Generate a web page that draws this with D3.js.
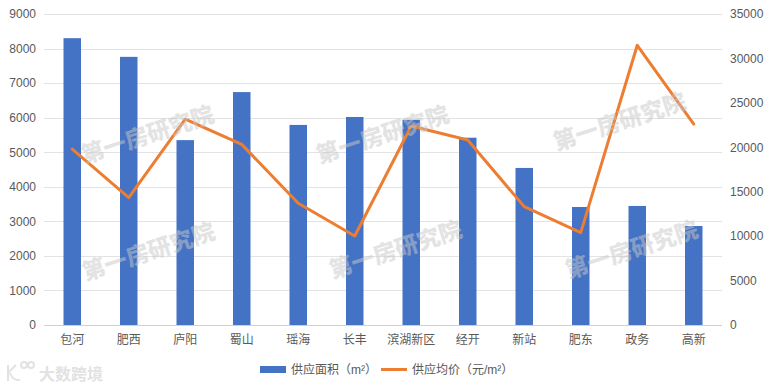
<!DOCTYPE html>
<html><head><meta charset="utf-8">
<script src="https://cdn.jsdelivr.net/npm/d3@7/dist/d3.min.js"></script>
<style>body{margin:0;background:#fff;}svg{display:block;}</style>
</head><body>
<svg id="c" width="774" height="390"></svg>
<script>
const categories = ["包河","肥西","庐阳","蜀山","瑶海","长丰","滨湖新区","经开","新站","肥东","政务","高新"];
const areaValues = [8300,7760,5350,6740,5790,6020,5940,5420,4545,3415,3445,2865];
const priceValues = [19800,14330,23180,20330,13700,10020,22400,20820,13320,10390,31480,22620];
const leftTicks = [0,1000,2000,3000,4000,5000,6000,7000,8000,9000];
const rightTicks = [0,5000,10000,15000,20000,25000,30000,35000];
const seriesNames = ["供应面积（m²）","供应均价（元/m²）"];

const svg = d3.select("#c");
const font = "'Liberation Sans','Noto Sans CJK SC',sans-serif";
const m = {left:44, right:722, top:14, bottom:325};

const x = d3.scaleBand().domain(categories).range([m.left, m.right]).paddingInner(0).paddingOuter(0);
const yL = d3.scaleLinear().domain([0,9000]).range([m.bottom, m.top]);
const yR = d3.scaleLinear().domain([0,35000]).range([m.bottom, m.top]);

// grid
svg.append("g").selectAll("line").data(leftTicks).join("line")
  .attr("x1", m.left).attr("x2", m.right)
  .attr("y1", d=>Math.round(yL(d))+0.5).attr("y2", d=>Math.round(yL(d))+0.5)
  .attr("stroke", d=> d===0 ? "#d0d0d0" : "#e3e3e3").attr("stroke-width",1);

// left axis
const axL = svg.append("g").attr("transform",`translate(${m.left},0)`)
  .call(d3.axisLeft(yL).tickValues(leftTicks).tickSize(0).tickPadding(8).tickFormat(d3.format("d")));
axL.select(".domain").remove();
axL.selectAll("text").attr("font-family",font).attr("font-size","12px").attr("fill","#595959");

// right axis
const axR = svg.append("g").attr("transform",`translate(${m.right},0)`)
  .call(d3.axisRight(yR).tickValues(rightTicks).tickSize(0).tickPadding(8).tickFormat(d3.format("d")));
axR.select(".domain").remove();
axR.selectAll("text").attr("font-family",font).attr("font-size","12px").attr("fill","#595959");

// bottom axis
const axB = svg.append("g").attr("transform",`translate(0,${m.bottom})`)
  .call(d3.axisBottom(x).tickSize(0).tickPadding(10));
axB.select(".domain").remove();
axB.selectAll("text").attr("font-family",font).attr("font-size","12px").attr("fill","#595959");

// bars
const bw = 17.5;
svg.append("g").selectAll("rect").data(categories).join("rect")
  .attr("x", (d)=> x(d)+x.bandwidth()/2 - bw/2)
  .attr("width", bw)
  .attr("y", (d,i)=> yL(areaValues[i]))
  .attr("height", (d,i)=> yL(0)-yL(areaValues[i]))
  .attr("fill","#4472C4");

// line
const line = d3.line().x((d,i)=> x(categories[i])+x.bandwidth()/2).y(d=>yR(d));
svg.append("path").datum(priceValues).attr("d", line)
  .attr("fill","none").attr("stroke","#ED7D31").attr("stroke-width",3)
  .attr("stroke-linejoin","round").attr("stroke-linecap","round");

// watermarks
const wm = [[147,133],[382,133],[619,120],[148,250],[395,248],[631,248]];
svg.append("g").selectAll("text").data(wm).join("text")
  .attr("transform", d=>`translate(${d[0]},${d[1]}) rotate(-18)`)
  .attr("text-anchor","middle").attr("dominant-baseline","central")
  .attr("font-family","'Noto Sans CJK SC',sans-serif").attr("font-weight","900")
  .attr("font-size","23px").attr("fill","#c8c8c8").attr("fill-opacity",0.5)
  .text("第一房研究院");

// legend
const lg = svg.append("g").attr("font-family",font).attr("font-size","12px").attr("fill","#595959");
lg.append("rect").attr("x",260).attr("y",366).attr("width",26).attr("height",7).attr("fill","#4472C4");
lg.append("text").attr("x",291).attr("y",370).attr("dominant-baseline","central").text(seriesNames[0]);
lg.append("line").attr("x1",381).attr("x2",407).attr("y1",369.5).attr("y2",369.5).attr("stroke","#ED7D31").attr("stroke-width",3);
lg.append("text").attr("x",412).attr("y",370).attr("dominant-baseline","central").text(seriesNames[1]);

// bottom-left logo watermark
const logo = svg.append("g").attr("fill","none").attr("stroke","#e2e2e2").attr("stroke-width",2);
logo.append("path").attr("d","M8,365 L8,381 M8,373 L16,365 M10,373 Q13,381 20,380");
logo.append("circle").attr("cx",24).attr("cy",365).attr("r",3);
logo.append("circle").attr("cx",31).attr("cy",365).attr("r",3);
svg.append("text").attr("x",39).attr("y",380).attr("font-family","'Noto Sans CJK SC',sans-serif")
  .attr("font-size","16px").attr("fill","#e2e2e2").attr("font-weight","700").text("大数跨境");
</script>
</body></html>
